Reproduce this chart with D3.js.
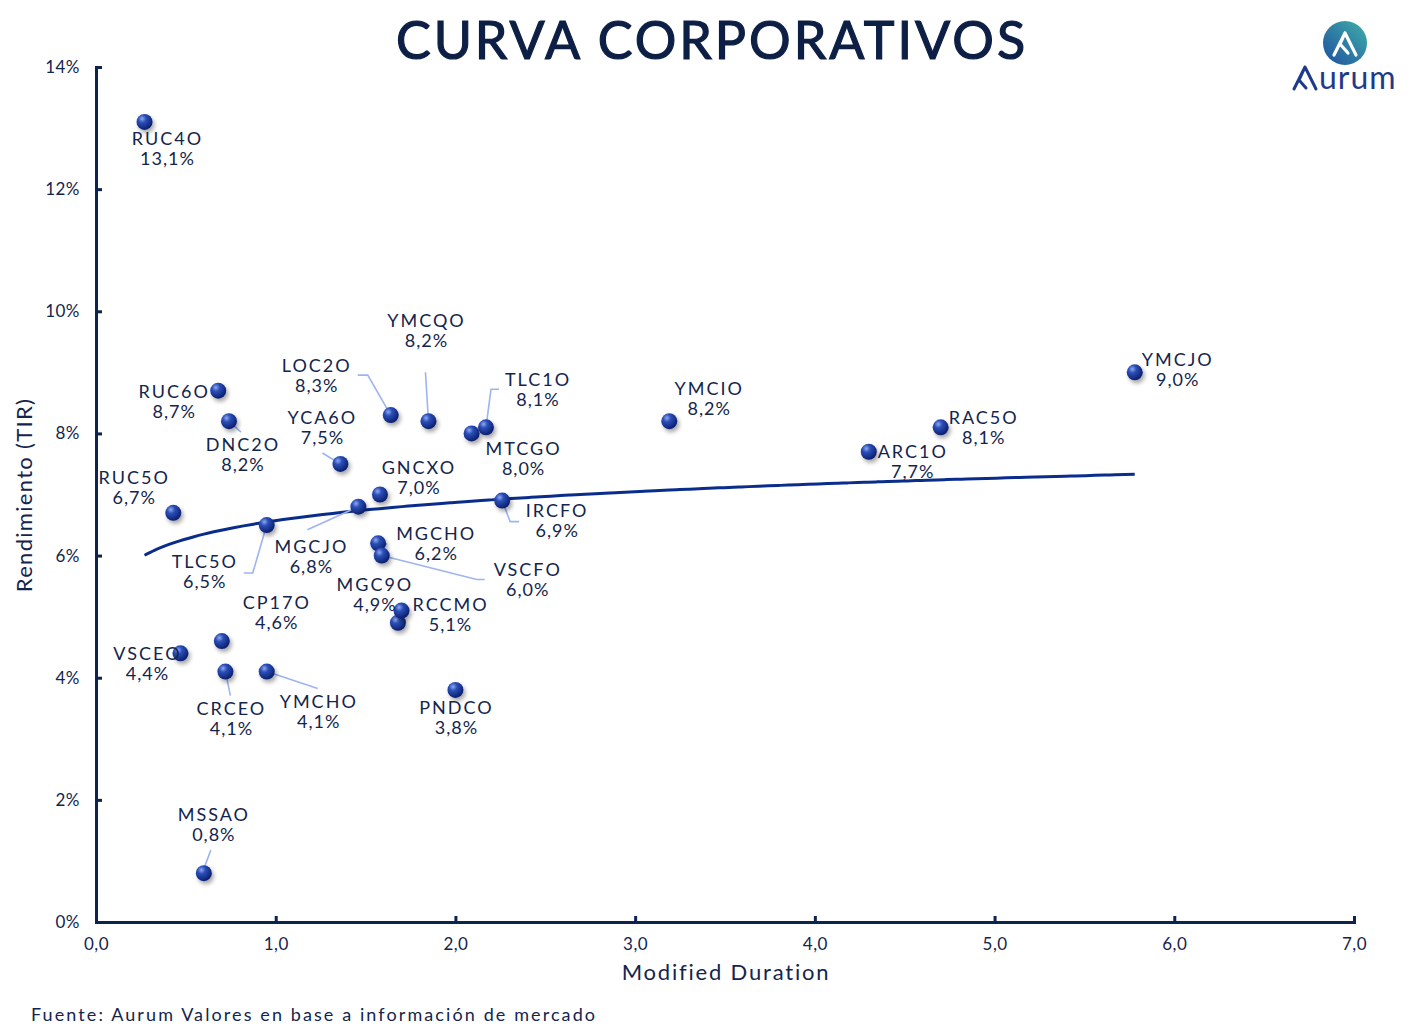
<!DOCTYPE html>
<html>
<head>
<meta charset="utf-8">
<script src="https://cdn.jsdelivr.net/npm/d3@7"></script>
<style>
  body { margin: 0; background: #fff; }
  svg text { font-family: Lato, "Noto Sans", sans-serif; fill: #13254d; }
</style>
</head>
<body>
<div id="chart"></div>
<script>
// bonds: ticker, modified duration, yield (TIR %)
let names = ['RUC4O', 'RUC6O', 'DNC2O', 'RUC5O', 'TLC5O', 'YCA6O', 'LOC2O', 'YMCQO', 'TLC1O',
  'MTCGO', 'GNCXO', 'MGCJO', 'IRCFO', 'MGCHO', 'VSCFO', 'MGC9O', 'RCCMO', 'CP17O', 'VSCEO',
  'CRCEO', 'YMCHO', 'PNDCO', 'MSSAO', 'YMCIO', 'ARC1O', 'RAC5O', 'YMCJO'];
let duration = [0.27, 0.68, 0.74, 0.43, 0.95, 1.36, 1.64, 1.85, 2.17,
  2.09, 1.58, 1.46, 2.26, 1.57, 1.59, 1.68, 1.70, 0.70, 0.47,
  0.72, 0.95, 2.00, 0.60, 3.19, 4.30, 4.70, 5.78];
let yields = [13.1, 8.7, 8.2, 6.7, 6.5, 7.5, 8.3, 8.2, 8.1,
  8.0, 7.0, 6.8, 6.9, 6.2, 6.0, 4.9, 5.1, 4.6, 4.4,
  4.1, 4.1, 3.8, 0.8, 8.2, 7.7, 8.1, 9.0];

let xTicks = [0, 1, 2, 3, 4, 5, 6, 7];
let yTicks = [0, 2, 4, 6, 8, 10, 12, 14];

// label placement (pixel offset of label centre from the point) and leader lines
let labelOff = {
  RUC4O: [22, 17], RUC6O: [-45, 1], DNC2O: [13, 23], RUC5O: [-40, -35], TLC5O: [-63, 37],
  YCA6O: [-19, -46], LOC2O: [-75, -49], YMCQO: [-3, -101], TLC1O: [51, -48], MTCGO: [51, 15],
  GNCXO: [38, -27], MGCJO: [-48, 40], IRCFO: [54, 10], MGCHO: [57, -10], VSCFO: [145, 14],
  MGC9O: [-24, -38], RCCMO: [48, -6], CP17O: [54, -38], VSCEO: [-34, 0], CRCEO: [5, 37],
  YMCHO: [51, 30], PNDCO: [0, 18], MSSAO: [9, -58], YMCIO: [39, -33], ARC1O: [43, 0],
  RAC5O: [42, -10], YMCJO: [42, -13]
};
let leaders = {
  DNC2O: [[0, 0], [12, 11]],
  TLC5O: [[0, 0], [-14, 48], [-23, 48]],
  YCA6O: [[0, 0], [-18, -11]],
  LOC2O: [[0, 0], [-23, -40], [-33, -40]],
  YMCQO: [[0, 0], [-3, -49]],
  TLC1O: [[0, 0], [5, -38], [13, -38]],
  MGCJO: [[0, 0], [-51, 23]],
  IRCFO: [[0, 0], [8, 21], [17, 21]],
  MGCHO: [[0, 0], [9, 1]],
  VSCFO: [[0, 0], [95, 24], [103, 24]],
  CRCEO: [[0, 0], [5, 24]],
  YMCHO: [[0, 0], [51, 17]],
  MSSAO: [[1, -7], [7, -23]]
};

let width = 1422, height = 1033;
let margin = { top: 67, right: 68, bottom: 111, left: 96 };

let svg = d3.select('#chart').append('svg')
  .attr('width', width)
  .attr('height', height);

let defs = svg.append('defs');
let grad = defs.append('radialGradient').attr('id', 'ball')
  .attr('cx', '35%').attr('cy', '30%').attr('r', '70%');
grad.append('stop').attr('offset', '0%').attr('stop-color', '#8fa8f0');
grad.append('stop').attr('offset', '35%').attr('stop-color', '#2b4fb8');
grad.append('stop').attr('offset', '100%').attr('stop-color', '#0b1f6e');
let shadow = defs.append('filter').attr('id', 'shadow')
  .attr('x', '-50%').attr('y', '-50%').attr('width', '200%').attr('height', '200%');
shadow.append('feDropShadow').attr('dx', 2).attr('dy', 3).attr('stdDeviation', 2)
  .attr('flood-color', '#000').attr('flood-opacity', 0.35);
let logoGrad = defs.append('linearGradient').attr('id', 'logo')
  .attr('x1', '0%').attr('y1', '100%').attr('x2', '100%').attr('y2', '0%');
logoGrad.append('stop').attr('offset', '0%').attr('stop-color', '#1f4ea0');
logoGrad.append('stop').attr('offset', '100%').attr('stop-color', '#3fb0a8');

let x = d3.scaleLinear().domain([0, 7]).range([margin.left, width - margin.right]);
let y = d3.scaleLinear().domain([0, 14]).range([height - margin.bottom, margin.top]);

// title
svg.append('text')
  .attr('x', 712).attr('y', 59)
  .attr('text-anchor', 'middle')
  .style('font-size', '52px').style('letter-spacing', '3px')
  .style('fill', '#0d1f45').style('stroke', '#0d1f45').style('stroke-width', 1.2)
  .text('CURVA CORPORATIVOS');

// axes
let axisColor = '#0d2350';
let xAxis = svg.append('g')
  .attr('transform', 'translate(0,' + y(0) + ')')
  .call(d3.axisBottom(x).tickValues(xTicks).tickSize(-6).tickPadding(19)
    .tickFormat(d => d3.format('.1f')(d).replace('.', ',')));
let yAxis = svg.append('g')
  .attr('transform', 'translate(' + x(0) + ',0)')
  .call(d3.axisLeft(y).tickValues(yTicks).tickSize(-6).tickPadding(16)
    .tickFormat(d => d + '%'));
[xAxis, yAxis].forEach(a => {
  a.select('.domain').attr('stroke', axisColor).attr('stroke-width', 3);
  a.selectAll('.tick line').attr('stroke', axisColor).attr('stroke-width', 3);
  a.selectAll('.tick text').style('font-size', '17px').style('fill', '#13254d')
    .style('font-family', 'Lato, "Noto Sans", sans-serif').style('letter-spacing', '0.5px');
});
xAxis.selectAll('.tick text').attr('dy', '0.5em');

svg.append('text')
  .attr('x', 726).attr('y', 980)
  .attr('text-anchor', 'middle')
  .style('font-size', '22px').style('letter-spacing', '1.8px')
  .text('Modified Duration');
svg.append('text')
  .attr('transform', 'translate(32,495) rotate(-90)')
  .attr('text-anchor', 'middle')
  .style('font-size', '22px').style('letter-spacing', '1.3px')
  .text('Rendimiento (TIR)');
svg.append('text')
  .attr('x', 31).attr('y', 1021)
  .style('font-size', '18px').style('letter-spacing', '2.1px')
  .text('Fuente: Aurum Valores en base a información de mercado');

// logarithmic trend line fitted to all bonds
let pts = names.map((n, i) => ({ name: n, d: duration[i], r: yields[i] }));
let lx = pts.map(p => Math.log(p.d));
let mx = d3.mean(lx), my = d3.mean(yields);
let b = d3.sum(lx, (v, i) => (v - mx) * (yields[i] - my)) / d3.sum(lx, v => (v - mx) * (v - mx));
let a = my - b * mx;
let dMin = d3.min(duration), dMax = d3.max(duration);
let trend = d3.range(0, 101).map(i => {
  let d = dMin + (dMax - dMin) * i / 100;
  return [d, a + b * Math.log(d)];
});
svg.append('path')
  .datum(trend)
  .attr('fill', 'none')
  .attr('stroke', '#0a2d8c')
  .attr('stroke-width', 3)
  .attr('d', d3.line().x(d => x(d[0])).y(d => y(d[1])).curve(d3.curveMonotoneX));

// leader lines
svg.append('g').selectAll('path')
  .data(pts.filter(p => leaders[p.name]))
  .enter().append('path')
  .attr('fill', 'none')
  .attr('stroke', '#9db4ee')
  .attr('stroke-width', 1.6)
  .attr('d', p => d3.line()(leaders[p.name].map(o => [x(p.d) + o[0], y(p.r) + o[1]])));

// bond points
svg.append('g').selectAll('circle')
  .data(pts)
  .enter().append('circle')
  .attr('cx', p => x(p.d))
  .attr('cy', p => y(p.r))
  .attr('r', 8)
  .attr('fill', 'url(#ball)')
  .attr('filter', 'url(#shadow)');

// labels (letter-spacing adds a trailing gap, so nudge by half of it)
let labels = svg.append('g').selectAll('g')
  .data(pts)
  .enter().append('g')
  .attr('transform', p => 'translate(' + (x(p.d) + labelOff[p.name][0] + 1) + ',' + (y(p.r) + labelOff[p.name][1]) + ')');
labels.append('text')
  .attr('text-anchor', 'middle').attr('dy', '0.35em')
  .style('font-size', '18px').style('letter-spacing', '2px')
  .text(p => p.name);
labels.append('text')
  .attr('text-anchor', 'middle').attr('y', 20).attr('dy', '0.35em')
  .style('font-size', '18px').style('letter-spacing', '1px')
  .text(p => d3.format('.1f')(p.r).replace('.', ',') + '%');

// logo
let logo = svg.append('g');
logo.append('circle').attr('cx', 1345).attr('cy', 43).attr('r', 22).attr('fill', 'url(#logo)');
logo.append('path')
  .attr('d', 'M1334,55 L1345,33 L1356,55 M1345,33 L1340,44 L1348,53')
  .attr('fill', 'none').attr('stroke', '#fff').attr('stroke-width', 3.2)
  .attr('stroke-linecap', 'round').attr('stroke-linejoin', 'round');
logo.append('path')
  .attr('d', 'M1294,89 L1305,67 L1316,89 M1305,67 L1299,80 L1306,88')
  .attr('fill', 'none').attr('stroke', '#1f3a8a').attr('stroke-width', 3)
  .attr('stroke-linecap', 'round').attr('stroke-linejoin', 'round');
logo.append('text')
  .attr('x', 1319).attr('y', 89)
  .style('font-size', '32px').style('fill', '#1f3a8a').style('letter-spacing', '1px')
  .text('urum');
</script>
</body>
</html>
